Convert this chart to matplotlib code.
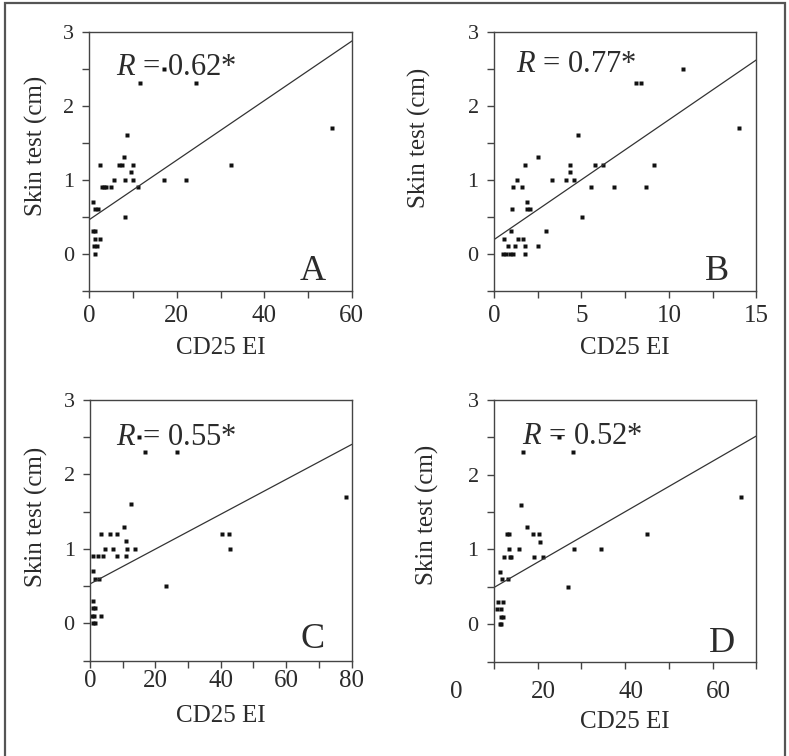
import matplotlib
matplotlib.use('Agg')
import matplotlib.pyplot as plt
import matplotlib.transforms as mtransforms
from matplotlib.patches import Rectangle
import numpy as np

plt.rcParams['font.family'] = 'Liberation Serif'
plt.rcParams['mathtext.fontset'] = 'custom'
plt.rcParams['mathtext.it'] = 'Liberation Serif:italic'
plt.rcParams['mathtext.rm'] = 'Liberation Serif'

INK = '#2b2b2b'

# panel A: CD25 EI vs skin test
a_x = [11.7, 24.4, 17.0, 55.6, 8.6, 7.9, 2.4, 6.9, 7.5, 10.1, 32.4, 9.6,
       5.6, 8.2, 10.1, 17.1, 22.2, 2.9, 3.4, 3.8, 4.9, 11.2, 0.8, 1.3,
       2.1, 8.2, 0.9, 1.4, 1.4, 2.4, 1.1, 1.7, 1.3]
a_y = [2.3, 2.3, 2.5, 1.7, 1.6, 1.3, 1.2, 1.2, 1.2, 1.2, 1.2, 1.1,
       1.0, 1.0, 1.0, 1.0, 1.0, 0.9, 0.9, 0.9, 0.9, 0.9, 0.7, 0.6,
       0.6, 0.5, 0.3, 0.3, 0.2, 0.2, 0.1, 0.1, 0.0]
a_fit = (0.46, 0.0402)

# panel B
b_x = [10.8, 8.1, 8.4, 14.0, 4.8, 2.5, 1.8, 4.35, 5.8, 6.25, 9.15, 4.35,
       1.3, 3.3, 4.1, 4.55, 1.1, 1.6, 5.55, 6.85, 8.7, 1.9, 1.9, 2.05,
       1.05, 5.05, 0.95, 3.0, 0.6, 1.35, 1.65, 0.8, 1.2, 1.75, 2.5,
       0.5, 0.7, 0.9, 1.1, 1.8]
b_y = [2.5, 2.3, 2.3, 1.7, 1.6, 1.3, 1.2, 1.2, 1.2, 1.2, 1.2, 1.1,
       1.0, 1.0, 1.0, 1.0, 0.9, 0.9, 0.9, 0.9, 0.9, 0.7, 0.6, 0.6,
       0.6, 0.5, 0.3, 0.3, 0.2, 0.2, 0.2, 0.1, 0.1, 0.1, 0.1,
       0.0, 0.0, 0.0, 0.0, 0.0]
b_fit = (0.19, 0.162)

# panel C
c_x = [16.7, 26.6, 15.1, 78.3, 12.6, 10.3, 3.4, 6.0, 8.1, 40.5, 42.5, 11.0,
       4.7, 7.1, 11.3, 13.7, 42.9, 0.8, 2.5, 4.0, 8.1, 11.0, 1.0, 1.5,
       2.8, 23.3, 1.0, 0.8, 1.6, 0.5, 1.2, 3.3, 0.8, 1.5]
c_y = [2.3, 2.3, 2.5, 1.7, 1.6, 1.3, 1.2, 1.2, 1.2, 1.2, 1.2, 1.1,
       1.0, 1.0, 1.0, 1.0, 1.0, 0.9, 0.9, 0.9, 0.9, 0.9, 0.7, 0.6,
       0.6, 0.5, 0.3, 0.2, 0.2, 0.1, 0.1, 0.1, 0.0, 0.0]
c_fit = (0.53, 0.0234)

# panel D
d_x = [15.2, 26.6, 23.4, 65.0, 14.7, 16.2, 11.6, 12.1, 17.6, 18.8, 43.5, 19.1,
       12.1, 14.4, 26.9, 33.1, 10.95, 12.2, 12.6, 17.7, 19.7, 10.0, 10.4,
       11.9, 25.6, 9.6, 10.6, 9.4, 10.1, 10.1, 10.6, 9.9, 10.3]
d_y = [2.3, 2.3, 2.5, 1.7, 1.6, 1.3, 1.2, 1.2, 1.2, 1.2, 1.2, 1.1,
       1.0, 1.0, 1.0, 1.0, 0.9, 0.9, 0.9, 0.9, 0.9, 0.7, 0.6,
       0.6, 0.5, 0.3, 0.3, 0.2, 0.2, 0.1, 0.1, 0.0, 0.0]
d_fit = (0.20, 0.0338)

r_labels = ['0.62*', '0.77*', '0.55*', '0.52*']
letters = ['A', 'B', 'C', 'D']


def style(ax, xlim, xticks, xlabels, xpad):
    ax.set_xlim(*xlim)
    ax.set_ylim(-0.5, 3)
    yt = np.arange(-0.5, 3.01, 0.5)
    ax.set_yticks(yt)
    ax.set_yticklabels([str(int(v)) if v >= 0 and v == int(v) else '' for v in yt])
    ax.set_xticks(xticks)
    ax.set_xticklabels(xlabels)
    for s in ax.spines.values():
        s.set_color('#444444')
        s.set_linewidth(1.0)
    ax.tick_params(direction='out', length=5, width=1.0, color='#444444',
                   labelcolor=INK)
    ax.tick_params(axis='x', pad=xpad, labelsize=18)
    ax.tick_params(axis='y', pad=6, labelsize=16)


fig = plt.figure(figsize=(7.89, 7.56), dpi=100)

panels = [
    (a_x, a_y, a_fit, [0.1132, 0.6155, 0.3326, 0.3426], (0, 60),
     np.arange(0, 61, 10), ['0', '', '20', '', '40', '', '60']),
    (b_x, b_y, b_fit, [0.6261, 0.6155, 0.3327, 0.3426], (0, 15),
     np.arange(0, 15.1, 2.5), ['0', '', '5', '', '10', '', '15']),
    (c_x, c_y, c_fit, [0.1141, 0.1262, 0.3315, 0.3447], (0, 80),
     np.arange(0, 81, 10), ['0', '', '20', '', '40', '', '60', '', '80']),
    (d_x, d_y, d_fit, [0.6261, 0.1250, 0.3327, 0.3460], (8.6, 68.6),
     np.arange(8.6, 69, 10), [''] * 7),
]

xpads = [5.5, 5.5, 2.0, 2.0]
ylab_pos = [(-0.158, 0.56), (-0.24, 0.59), (-0.16, 0.55), (-0.21, 0.56)]
xlab_pos = [(0.5, -0.18), (0.5, -0.18), (0.5, -0.17), (0.5, -0.19)]
r_pos = [(0.10, 0.833), (0.085, 0.846), (0.099, 0.829), (0.108, 0.83)]
let_pos = [(0.853, 0.041), (0.85, 0.041), (0.85, 0.047), (0.867, 0.038)]

for i, (xs, ys, fit, rect, xlim, xticks, xlabels) in enumerate(panels):
    ax = fig.add_axes(rect)
    style(ax, xlim, xticks, xlabels, xpads[i])
    ax.plot(xs, ys, 's', ms=3.0, color='#111111', mec='none', clip_on=False)
    lx = np.array(xlim, dtype=float)
    ax.plot(lx, fit[0] + fit[1] * lx, '-', color='#333333', lw=0.9)
    ax.set_ylabel('Skin test (cm)', fontsize=18, color=INK)
    ax.yaxis.set_label_coords(*ylab_pos[i])
    ax.set_xlabel('CD25 EI', fontsize=18, color=INK)
    ax.xaxis.set_label_coords(*xlab_pos[i])
    ax.text(r_pos[i][0], r_pos[i][1], r'$R$ = ' + r_labels[i], transform=ax.transAxes,
            fontsize=22, color=INK, va='baseline', ha='left')
    ax.text(let_pos[i][0], let_pos[i][1], letters[i], transform=ax.transAxes,
            fontsize=26, color=INK, va='baseline', ha='center')
    if i == 3:
        # the D tick labels sit off the tick marks in the original
        trans = mtransforms.blended_transform_factory(ax.transData, ax.transAxes)
        for v in [0, 20, 40, 60]:
            ax.text(v, -0.117, str(v), transform=trans, fontsize=18, color=INK,
                    ha='center', va='center')

fig.patches.append(Rectangle((5 / 789, -0.01), 780 / 789, 1 - 3 / 756 + 0.01,
                             transform=fig.transFigure, fill=False,
                             edgecolor='#555555', lw=1.6))

fig.savefig('out.png', dpi=100)
